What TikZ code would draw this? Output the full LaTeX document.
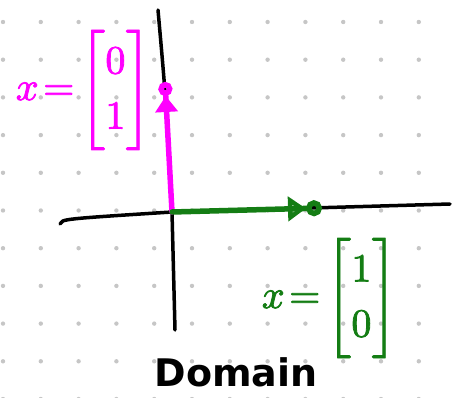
\documentclass[tikz,border=0pt]{standalone}
\usepackage{amsmath}
\usepackage{unicode-math}
\setmathfont{Latin Modern Math}[FakeBold=2]
\newfontfamily\handfont{DejaVu Sans}
\usetikzlibrary{arrows.meta}

\definecolor{penpink}{RGB}{255,0,255}
\definecolor{pengreen}{RGB}{20,125,20}

\begin{document}
\begin{tikzpicture}[x=1pt, y=-1pt, line cap=round, line join=round,
  axis/.style={black, line width=3.5pt},
  vec/.style={line width=5.5pt},
  lbl/.style={font=\fontsize{40}{48}\selectfont, inner sep=0pt}]
  \useasboundingbox (0,0) rectangle (452,398);
  % Dot grid
  \foreach \i in {0,...,11}
    \foreach \j in {0,...,10}
      \fill[gray!45] ({3+37.8*\i},{22+37.7*\j}) circle (2.2pt);
  % Axes
  \coordinate (O) at (172,212);
  \draw[axis] (158,10) .. controls (166,100) .. (O) -- (175,330);
  \draw[axis] (60,224) .. controls (62,219) .. (O) -- (450,204);
  % Vectors
  \coordinate (e1) at (165,82);
  \coordinate (e2) at (322,208);
  \draw[vec, penpink, -{Triangle[length=16pt,width=22pt] Circle[open,length=14pt]}] (O) -- (e1);
  \draw[vec, pengreen, -{Triangle[open,length=18pt,width=24pt] Circle[open,length=16pt]}] (O) -- (e2);
  % Labels
  \node[lbl, penpink] (lab1) at (84,90)
    {$x\!=\!\renewcommand\arraystretch{1.15}\begin{bmatrix}0\\1\end{bmatrix}$};
  \node[lbl, pengreen] (lab2) at (330,298)
    {$x\!=\!\renewcommand\arraystretch{1.15}\begin{bmatrix}1\\0\end{bmatrix}$};
  \node[font=\handfont\bfseries\fontsize{38}{42}\selectfont, inner sep=0pt] (dom) at (236,372) {Domain};
\end{tikzpicture}
\end{document}
